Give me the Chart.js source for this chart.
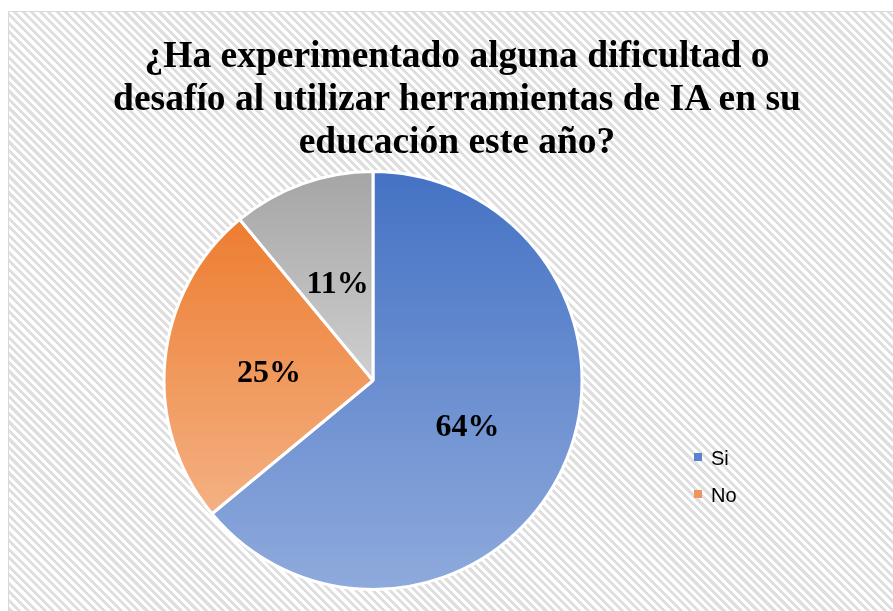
<!DOCTYPE html>
<html>
<head>
<meta charset="utf-8">
<script src="https://cdn.jsdelivr.net/npm/chart.js@4.4.0/dist/chart.umd.min.js"></script>
<style>
    html, body { margin: 0; padding: 0; width: 893px; height: 611px; overflow: hidden; background: #fff; }
    .frame {
        position: absolute; left: 8px; top: 11px; width: 900px; height: 620px;
        border-top: 1px solid #d9d9d9; border-left: 1px solid #d9d9d9;
        background: repeating-linear-gradient(45deg, #ffffff 0 3px, #dfdfdf 3px 6px);
    }
    #chart { position: absolute; left: 0; top: 0; }
    .title {
        position: absolute; left: 0; top: 33px; width: 914px; text-align: center;
        font: bold 37.5px "Liberation Serif", "Times New Roman", serif; line-height: 43px; color: #000;
    }
    .legend-item { position: absolute; left: 694px; font: 20px "Liberation Sans", Arial, sans-serif; line-height: 20px; color: #000; }
    .legend-item .box { position: absolute; left: 0; top: 5px; width: 8px; height: 8px; }
    .legend-item .txt { position: absolute; left: 17px; top: 0; white-space: nowrap; }
</style>
</head>
<body>
<div class="frame"></div>
<canvas id="chart" width="893" height="611"></canvas>
<div class="title">¿Ha experimentado alguna dificultad o<br>desafío al utilizar herramientas de IA en su<br>educación este año?</div>
<div id="legend"></div>
<script>
const labels = ['Si', 'No', ''];
const values = [64, 25, 11];

const topColors = ['#4472C4', '#ED7D31', '#A5A5A5'];
const bottomColors = ['#8FAADC', '#F4B183', '#CFCFCF'];
const legendColors = ['#5B80CF', '#F0965C', '#B5B5B5'];

const total = values.reduce((a, b) => a + b, 0);

function sliceGradient(context) {
    const i = context.dataIndex;
    const chart = context.chart;
    const area = chart.chartArea;
    if (!area) return topColors[i];
    const cx = (area.left + area.right) / 2;
    const cy = (area.top + area.bottom) / 2;
    const r = (Math.min(area.width, area.height) - 3) / 2;
    const before = values.slice(0, i).reduce((a, b) => a + b, 0);
    const start = -Math.PI / 2 + before / total * Math.PI * 2;
    const end = start + values[i] / total * Math.PI * 2;
    const ys = [cy, cy + r * Math.sin(start), cy + r * Math.sin(end)];
    if (start < Math.PI / 2 && end > Math.PI / 2) ys.push(cy + r);
    const g = chart.ctx.createLinearGradient(0, Math.min(...ys), 0, Math.max(...ys));
    g.addColorStop(0, topColors[i]);
    g.addColorStop(1, bottomColors[i]);
    return g;
}

const percentLabels = {
    id: 'percentLabels',
    afterDatasetsDraw(chart) {
        const ctx = chart.ctx;
        const meta = chart.getDatasetMeta(0);
        ctx.save();
        ctx.font = 'bold 32px "Liberation Serif", "Times New Roman", serif';
        ctx.fillStyle = '#000';
        ctx.textAlign = 'center';
        ctx.textBaseline = 'middle';
        meta.data.forEach((arc, i) => {
            const p = arc.getProps(['x', 'y', 'startAngle', 'endAngle', 'outerRadius'], true);
            const mid = (p.startAngle + p.endAngle) / 2;
            const d = p.outerRadius * 0.5;
            ctx.fillText(Math.round(values[i] / total * 100) + '%', p.x + Math.cos(mid) * d, p.y + Math.sin(mid) * d + 3);
        });
        ctx.restore();
    }
};

new Chart(document.getElementById('chart').getContext('2d'), {
    type: 'pie',
    data: {
        labels: labels,
        datasets: [{
            data: values,
            backgroundColor: sliceGradient,
            borderColor: '#ffffff',
            borderWidth: 3
        }]
    },
    options: {
        responsive: false,
        animation: false,
        layout: { padding: { top: 170, bottom: 20, left: 162, right: 309 } },
        plugins: {
            legend: { display: false },
            title: { display: false },
            tooltip: { enabled: false }
        }
    },
    plugins: [percentLabels]
});

// legend (only the named categories)
const legend = document.getElementById('legend');
labels.forEach((name, i) => {
    if (!name) return;
    const item = document.createElement('div');
    item.className = 'legend-item';
    item.style.top = (448 + i * 37) + 'px';
    item.innerHTML = `<span class="box" style="background:${legendColors[i]}"></span><span class="txt">${name}</span>`;
    legend.appendChild(item);
});
</script>
</body>
</html>
